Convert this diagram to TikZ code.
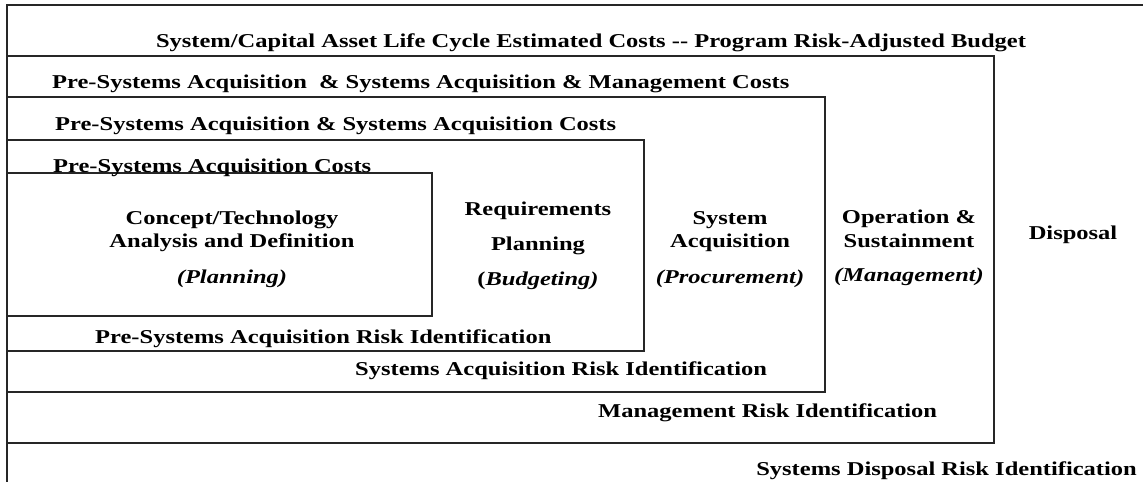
\documentclass[tikz,border=0pt]{standalone}
\usepackage{fontspec}
\setmainfont{Liberation Serif}[FakeStretch=1.25]
\begin{document}
\begin{tikzpicture}[x=1pt,y=-1pt,
  frame/.style={line width=1.3pt,draw=black!85},
  lbl/.style={font=\fontsize{19.6}{23.5}\selectfont\bfseries,inner sep=0pt,text=black},
  lw/.style={lbl,anchor=base west},
  lc/.style={lbl,anchor=base},
  le/.style={lbl,anchor=base east}]
\useasboundingbox (0,0) rectangle (1143,482);
% frames
\draw[frame] (1143,5) -- (7,5) -- (7,482);
\draw[frame] (7,56) rectangle (994,443);
\draw[frame] (7,97) rectangle (825,392);
\draw[frame] (7,140) rectangle (644,351);
\draw[frame] (7,173) rectangle (432,316);
% headers
\node[lc] (title) at (591,47) {System/Capital Asset Life Cycle Estimated Costs -{}- Program Risk-Adjusted Budget};
\node[lw] (hdrB) at (52,88) {Pre-Systems Acquisition~ \& Systems Acquisition \& Management Costs};
\node[lw] (hdrC) at (55,130) {Pre-Systems Acquisition \& Systems Acquisition Costs};
\node[lw] (hdrD) at (53,172) {Pre-Systems Acquisition Costs};
% phases
\node[lc] (conA) at (232,224) {Concept/Technology};
\node[lc] (conB) at (232,247) {Analysis and Definition};
\node[lc] (conC) at (232,283) {\itshape (Planning)};
\node[lc] (reqA) at (538,215) {Requirements};
\node[lc] (reqB) at (538,250) {Planning};
\node[lc] (reqC) at (538,285) {(\textit{Budgeting)}};
\node[lc] (sysA) at (730,224) {System};
\node[lc] (sysB) at (730,247) {Acquisition};
\node[lc] (sysC) at (730,283) {\itshape (Procurement)};
\node[lc] (opsA) at (909,223) {Operation \&};
\node[lc] (opsB) at (909,247) {Sustainment};
\node[lc] (opsC) at (909,281) {\itshape (Management)};
\node[lc] (disp) at (1073,239) {Disposal};
% risks
\node[lw] (riskD) at (95,343) {Pre-Systems Acquisition Risk Identification};
\node[lw] (riskC) at (355,375) {Systems Acquisition Risk Identification};
\node[lw] (riskB) at (598,417) {Management Risk Identification};
\node[le] (riskA) at (1137,475) {Systems Disposal Risk Identification};
\end{tikzpicture}
\end{document}
